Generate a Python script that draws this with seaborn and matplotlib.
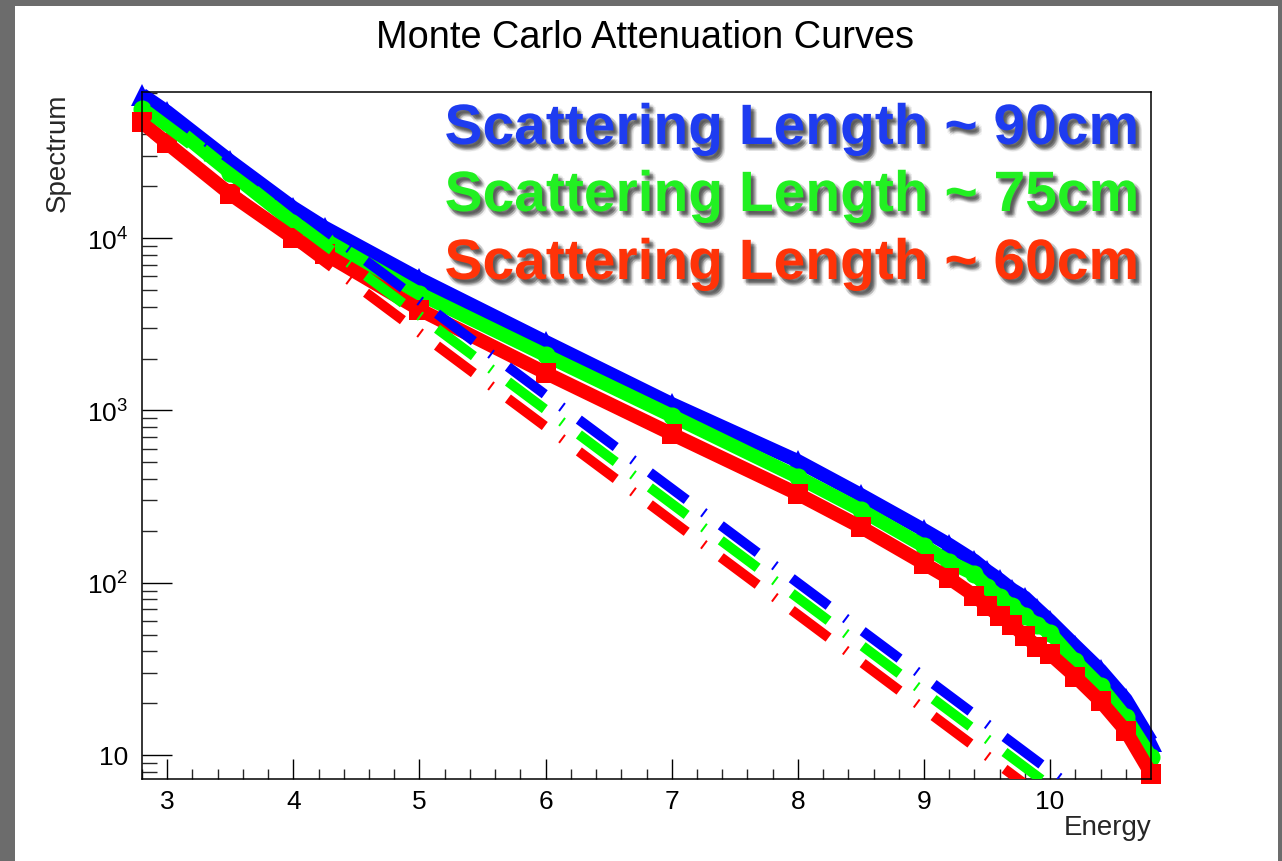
import numpy as np
import pandas as pd
import seaborn as sns
import matplotlib
matplotlib.use("Agg")
import matplotlib.pyplot as plt
from matplotlib import patheffects as pe
from matplotlib.patches import Rectangle
from matplotlib.ticker import FixedLocator, FixedFormatter, LogLocator, MultipleLocator, NullFormatter

# ---------------- data ----------------
energy = [2.8, 3.0, 3.5, 4.0, 4.25, 5.0, 6.0, 7.0, 8.0, 8.5, 9.0, 9.2, 9.4, 9.5,
          9.6, 9.7, 9.8, 9.9, 10.0, 10.2, 10.4, 10.6, 10.8]
mc_90cm = [68000, 54000, 28000, 15000, 11500, 5800, 2500, 1090, 508, 323, 202, 166, 134, 117,
           104, 91, 82, 70, 60, 43, 31, 21, 12]
mc_75cm = [56000, 47500, 24000, 12300, 9800, 4750, 2090, 930, 410, 264, 163, 132, 112, 95,
           83, 73, 64, 57, 51, 35, 25, 16.5, 9.7]
mc_60cm = [47000, 35500, 18000, 10000, 8100, 3850, 1650, 730, 327, 210, 129, 106, 84, 73,
           64, 57, 49, 42.5, 38.5, 28.5, 20.5, 13.8, 7.8]

dash_energy = [2.8, 4.0, 5.0, 6.0, 7.0, 8.0, 9.0, 10.0, 10.8]
ref_90cm = [68900, 15200, 4340, 1230, 351, 99.8, 28.4, 8.07, 2.95]
ref_75cm = [56400, 12500, 3550, 1010, 287, 81.7, 23.2, 6.6, 2.4]
ref_60cm = [45000, 9950, 2830, 805, 229, 65.2, 18.5, 5.27, 1.93]

legend_labels = ["Scattering Length ~ 90cm", "Scattering Length ~ 75cm", "Scattering Length ~ 60cm"]
title = "Monte Carlo Attenuation Curves"
x_label = "Energy"
y_label = "Spectrum"
y_ticks = [10, 100, 1000, 10000]
y_ticklabels = ["10", r"$10^{2}$", r"$10^{3}$", r"$10^{4}$"]

# ---------------- style ----------------
sns.set_theme(style="ticks")
plt.rcParams["font.family"] = ["Liberation Sans", "DejaVu Sans"]
plt.rcParams["mathtext.fontset"] = "custom"
plt.rcParams["mathtext.rm"] = "Liberation Sans"
plt.rcParams["mathtext.it"] = "Liberation Sans:italic"
plt.rcParams["mathtext.bf"] = "Liberation Sans:bold"

W, H = 1282, 862
fig = plt.figure(figsize=(W / 100, H / 100), dpi=100, facecolor="#6c6c6c")
fig.add_artist(Rectangle((15 / W, 0), (1278 - 15) / W, (H - 7) / H,
                         transform=fig.transFigure, facecolor="white",
                         edgecolor="none", zorder=-10))

ax = fig.add_axes([142 / W, (H - 780) / H, (1151 - 142) / W, (780 - 93) / H])
ax.set_facecolor("white")
ax.set_yscale("log")

colors = ["#0000ff", "#00ff00", "#ff0000"]
markers = ["^", "o", "s"]
msizes = [16, 13, 15]
solid_lw = 10.0
dash_lw = 7.2

for vals, c, m, ms in zip([mc_90cm, mc_75cm, mc_60cm], colors, markers, msizes):
    sns.lineplot(x=energy, y=vals, color=c, marker=m, markersize=ms,
                 markeredgewidth=0, linewidth=solid_lw, estimator=None,
                 sort=False, ax=ax)
    ln = ax.lines[-1]
    ln.set_clip_on(False)
    ln.set_solid_joinstyle("round")
    ln.set_solid_capstyle("butt")

for vals, c in zip([ref_90cm, ref_75cm, ref_60cm], colors):
    sns.lineplot(x=dash_energy, y=vals, color=c, linewidth=dash_lw,
                 estimator=None, sort=False, ax=ax)
    ln = ax.lines[-1]
    ln.set_linestyle((7.45, (4.6, 2.05, 0.2, 2.0)))
    ln.set_dash_capstyle("butt")
    ln.set_zorder(3)

ax.set_xlim(2.8, 10.8)
ax.set_ylim(7.25, 70500)

ax.xaxis.set_major_locator(MultipleLocator(1))
ax.xaxis.set_minor_locator(MultipleLocator(0.2))
ax.yaxis.set_major_locator(FixedLocator(y_ticks))
ax.yaxis.set_major_formatter(FixedFormatter(y_ticklabels))
ax.yaxis.set_minor_locator(LogLocator(base=10, subs=np.arange(2, 10), numticks=100))
ax.yaxis.set_minor_formatter(NullFormatter())

ax.tick_params(axis="x", which="major", direction="in", length=14.4, width=1.0,
               bottom=True, top=False, labelsize=19, pad=7, colors="black")
ax.tick_params(axis="x", which="minor", direction="in", length=7.2, width=1.0,
               bottom=True, top=False)
ax.tick_params(axis="y", which="major", direction="in", length=21.6, width=1.0,
               left=True, right=False, labelsize=19, pad=10, colors="black")
ax.tick_params(axis="y", which="minor", direction="in", length=10.8, width=1.0,
               left=True, right=False)
for sp in ax.spines.values():
    sp.set_visible(True)
    sp.set_color("black")
    sp.set_linewidth(1.1)
ax.grid(False)

ax.set_xlabel(x_label, fontsize=20, loc="right")
ax.xaxis.set_label_coords(1.0, -0.051)
ax.set_ylabel(y_label, fontsize=20, loc="top")
ax.yaxis.set_label_coords(-0.071, 1.0)

fig.text(645 / W, 1 - 48 / H, title, fontsize=27.3, ha="center", va="baseline", color="black")

# legend-like text with soft drop shadow
shadow = []
for dx, dy, a in [(2.5, -3.0, 0.20), (1.5, -2.0, 0.12), (3.5, -4.0, 0.12),
                  (1.5, -4.0, 0.09), (3.5, -2.0, 0.09), (2.5, -5.0, 0.07),
                  (4.5, -3.0, 0.07), (0.5, -3.0, 0.06), (2.5, -1.0, 0.06),
                  (4.5, -5.0, 0.05)]:
    shadow.append(pe.SimplePatchShadow(offset=(dx, dy), shadow_rgbFace="black", alpha=a))
shadow.append(pe.Normal())

text_colors = ["#1e3cf0", "#22f022", "#ff3308"]
baselines = [145, 212, 280]
for lab, tc, yb in zip(legend_labels, text_colors, baselines):
    fig.text(1140 / W, 1 - yb / H, lab, fontsize=41, fontweight="bold",
             color=tc, ha="right", va="baseline", path_effects=shadow, zorder=10)

fig.savefig("out.png", dpi=100, facecolor=fig.get_facecolor())
